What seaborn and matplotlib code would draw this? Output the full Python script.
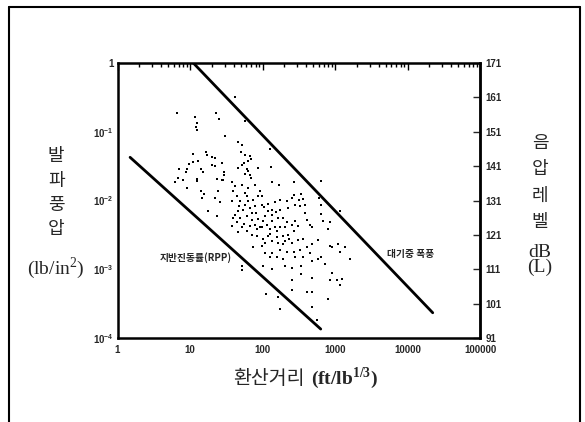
import matplotlib
matplotlib.use("Agg")
import numpy as np
import matplotlib.pyplot as plt
import seaborn as sns
import pandas as pd
from matplotlib.lines import Line2D
from matplotlib.font_manager import FontProperties
from matplotlib.ticker import FixedLocator, FixedFormatter, LogLocator, NullFormatter, NullLocator

# --- data ---
# scaled distance (ft/lb^1/3)
dist = [6.6, 11.7, 22.8, 25.3, 12.4, 12.0, 12.4, 57, 30.7, 46.6, 52.8, 127, 50.6, 57.4, 67.3, 69.5,
        63, 56, 51.7, 45.4, 60.6, 63, 57.4, 67.3, 69.5, 86, 131, 11.0, 16.5, 17.0, 20, 22.1,
        27.9, 12.8, 11.0, 9.8, 9.0, 7.1, 8.7, 14.0, 15.2, 20, 22.1, 29.1, 29.8, 6.9, 12.4, 23.8,
        28.5, 6.2, 8.1, 9.0, 12.4, 14.1, 15.7, 14.8, 24.5, 27.3, 22.1, 25.9, 17.9, 23.3, 37.6, 41.8,
        39.6, 44.1, 37.6, 49, 57.4, 54.4, 46, 41.8, 49, 60.6, 71, 67.3, 79, 63, 75, 86,
        57.4, 63, 51.7, 79, 92.5, 44, 51.7, 60.6, 71, 83, 46, 75, 51.7, 51.7, 37.6, 86,
        79, 92.5, 134, 170, 269, 641, 98, 149, 174, 220, 252, 269, 337, 322, 362, 385,
        329, 281, 227, 174, 136, 120, 136, 108, 101, 114, 136, 164, 193, 220, 204, 174,
        149, 127, 252, 281, 313, 269, 227, 193, 157, 120, 102, 108, 134, 164, 204, 252,
        313, 362, 407, 452, 477, 385, 641, 649, 587, 607, 683, 808, 853, 1172, 853, 900,
        1110, 1374, 477, 407, 329, 269, 220, 174, 136, 108, 127, 157, 193, 281, 362, 452,
        587, 649, 728, 1172, 1611, 102, 136, 204, 344, 477, 252, 337, 477, 910, 853, 1056,
        1240, 1172, 252, 252, 111, 164, 410, 477, 808, 174, 477, 571, 41.8,
        98, 105, 120, 153, 97, 127, 157, 193, 230, 97, 61, 72, 56, 48, 81, 67, 39, 83]
# blast air overpressure (lb/in^2)
psi = [0.185, 0.165, 0.19, 0.153, 0.135, 0.118, 0.106, 0.145, 0.087, 0.070, 0.064, 0.056, 0.051, 0.046, 0.045, 0.040,
       0.037, 0.035, 0.033, 0.030, 0.029, 0.027, 0.024, 0.0235, 0.021, 0.030, 0.031, 0.0475, 0.050, 0.046, 0.0425, 0.041,
       0.0355, 0.038, 0.036, 0.034, 0.029, 0.029, 0.026, 0.029, 0.026, 0.033, 0.032, 0.026, 0.0235, 0.021, 0.0206, 0.0206,
       0.020, 0.0186, 0.020, 0.0152, 0.019, 0.0136, 0.0124, 0.0109, 0.0136, 0.020, 0.0109, 0.0095, 0.0070, 0.0059, 0.0186, 0.0161,
       0.0136, 0.0115, 0.0098, 0.0098, 0.0087, 0.0074, 0.0070, 0.0062, 0.0056, 0.0059, 0.0066, 0.0078, 0.0082, 0.0098, 0.0103, 0.0115,
       0.0128, 0.0152, 0.017, 0.017, 0.0136, 0.0049, 0.0041, 0.0036, 0.0032, 0.0030, 0.0035, 0.0021, 0.0011, 0.00098, 0.0042, 0.0053,
       0.0044, 0.0041, 0.0186, 0.017, 0.0186, 0.019, 0.0087, 0.0095, 0.0103, 0.0098, 0.0109, 0.0121, 0.0124, 0.0103, 0.0106, 0.0087,
       0.0082, 0.0087, 0.0078, 0.0074, 0.0074, 0.0070, 0.0062, 0.0059, 0.0050, 0.0044, 0.0050, 0.0056, 0.0056, 0.0049, 0.0041, 0.0041,
       0.0041, 0.0038, 0.0044, 0.0050, 0.0042, 0.0036, 0.0032, 0.0030, 0.0029, 0.0030, 0.0028, 0.0024, 0.0026, 0.0024, 0.0026, 0.0024,
       0.0027, 0.0028, 0.0052, 0.0044, 0.0041, 0.0066, 0.0087, 0.0064, 0.0027, 0.0109, 0.0050, 0.0038, 0.0049, 0.0070, 0.0022, 0.0021,
       0.0023, 0.0021, 0.0023, 0.0021, 0.0019, 0.0018, 0.0018, 0.0019, 0.0017, 0.0017, 0.0015, 0.0015, 0.0014, 0.0015, 0.0015, 0.0017,
       0.0014, 0.0015, 0.0012, 0.0018, 0.0014, 0.0011, 0.0010, 0.0011, 0.0011, 0.0013, 0.00104, 0.00085, 0.00075, 0.00088, 0.00070, 0.00070,
       0.00072, 0.00060, 0.00070, 0.00050, 0.00043, 0.00039, 0.00047, 0.00047, 0.00037, 0.00026, 0.00028, 0.00018, 0.32,
       0.0115, 0.0081, 0.0089, 0.0068, 0.0041, 0.0033, 0.0036, 0.0023, 0.0028, 0.0022, 0.0115, 0.0052, 0.0045, 0.0083, 0.0066, 0.0043, 0.0056, 0.0039]

# boundary lines
upper_x = [11.1, 22250]
upper_y = [1.0, 2.33e-4]
lower_x = [1.49, 635]
lower_y = [0.0425, 1.35e-4]

x_ticks = [1, 10, 100, 1000, 10000, 100000]
x_tick_labels = ['1', '10', '100', '1000', '10000', '100000']
y_ticks = [1e-4, 1e-3, 1e-2, 1e-1, 1]
y_tick_labels = [r'$\mathsf{10^{-4}}$', r'$\mathsf{10^{-3}}$', r'$\mathsf{10^{-2}}$', r'$\mathsf{10^{-1}}$', '1']
db_ticks = [91, 101, 111, 121, 131, 141, 151, 161, 171]
db_tick_labels = ['91', '101', '111', '121', '131', '141', '151', '161', '171']

sns.set_style("white")
plt.rcParams['font.family'] = ['Noto Sans CJK KR', 'DejaVu Sans']
plt.rcParams['mathtext.fontset'] = 'custom'
plt.rcParams['mathtext.rm'] = 'Liberation Serif'
plt.rcParams['mathtext.bf'] = 'Liberation Serif:bold'
plt.rcParams['mathtext.sf'] = 'Liberation Sans:bold'
plt.rcParams['axes.unicode_minus'] = True

fig = plt.figure(figsize=(5.85, 4.22), dpi=100)
ax = fig.add_axes([0.2009, 0.199, 0.6197, 0.6517])
ax.set_xscale('log')
ax.set_yscale('log')

df = pd.DataFrame({'dist': dist, 'psi': psi})
sns.scatterplot(data=df, x='dist', y='psi', s=2.5, marker='s', color='black', linewidth=0, ax=ax)
sns.lineplot(x=upper_x, y=upper_y, color='black', lw=2.0, ax=ax)
sns.lineplot(x=lower_x, y=lower_y, color='black', lw=2.0, ax=ax)

ax.set_xlim(1, 1e5)
ax.set_ylim(1e-4, 1)
ax.set_xlabel('')
ax.set_ylabel('')

tick_font = FontProperties(family='Liberation Sans', weight='bold', size=7)
ax.xaxis.set_major_locator(FixedLocator(x_ticks))
ax.xaxis.set_major_formatter(FixedFormatter(x_tick_labels))
ax.yaxis.set_major_locator(FixedLocator(y_ticks))
ax.yaxis.set_major_formatter(FixedFormatter(y_tick_labels))
ax.xaxis.set_minor_locator(LogLocator(base=10, subs=range(2, 10), numticks=20))
ax.yaxis.set_minor_locator(LogLocator(base=10, subs=range(2, 10), numticks=20))
ax.xaxis.set_minor_formatter(NullFormatter())
ax.yaxis.set_minor_formatter(NullFormatter())
for lab in ax.get_xticklabels() + ax.get_yticklabels():
    lab.set_fontproperties(tick_font)
ax.tick_params(which='both', direction='in', top=True, right=False, color='black', width=1)
ax.tick_params(which='major', length=5, pad=3)
ax.tick_params(axis='x', which='major', pad=5)
ax.tick_params(which='minor', length=3)
for sp in ax.spines.values():
    sp.set_linewidth(1.8)
    sp.set_color('black')

# right axis: sound pressure level dB(L)
sec = ax.secondary_yaxis('right', functions=(lambda p: 171 + 20 * np.log10(p),
                                             lambda d: 10 ** ((d - 171) / 20)))
sec.yaxis.set_major_locator(FixedLocator(db_ticks))
sec.yaxis.set_major_formatter(FixedFormatter(db_tick_labels))
sec.yaxis.set_minor_locator(NullLocator())
sec.yaxis.set_minor_formatter(NullFormatter())
sec.tick_params(direction='in', length=5, width=1, pad=4)
sec.spines['right'].set_linewidth(1.8)
for lab in sec.get_yticklabels():
    lab.set_fontproperties(tick_font)

# curve labels
ax.text(12.1, 0.00146, '지반진동률(RPP)', ha='center', va='center', fontsize=7, fontweight='bold')
ax.text(11170, 0.00167, '대기중 폭풍', ha='center', va='center', fontsize=7, fontweight='bold')

# axis titles
fig.text(0.096, 0.543, '발\n파\n풍\n압', ha='center', va='center', fontsize=13, linespacing=1.45)
fig.text(0.096, 0.365, r'(lb/in$^{2}$)', ha='center', va='center', fontsize=14, family='Liberation Serif')
fig.text(0.923, 0.568, '음\n압\n레\n벨', ha='center', va='center', fontsize=13, linespacing=1.6)
fig.text(0.923, 0.384, 'dB\n(L)', ha='center', va='center', fontsize=14, family='Liberation Serif', linespacing=0.85)
fig.text(0.521, 0.104, '환산거리', ha='right', va='center', fontsize=14)
fig.text(0.532, 0.104, r'(ft/lb$^{\mathbf{1/3}}$)', ha='left', va='center', fontsize=14,
         family='Liberation Serif', fontweight='bold')

# frame around the figure (open at the bottom)
fx0, fx1, fy1 = 9 / 585, 580 / 585, 1 - 7 / 422
fig.add_artist(Line2D([fx0, fx0], [0, fy1], color='black', lw=1.5))
fig.add_artist(Line2D([fx1, fx1], [0, fy1], color='black', lw=1.5))
fig.add_artist(Line2D([fx0, fx1], [fy1, fy1], color='black', lw=1.5))

fig.savefig('out.png', dpi=100)
